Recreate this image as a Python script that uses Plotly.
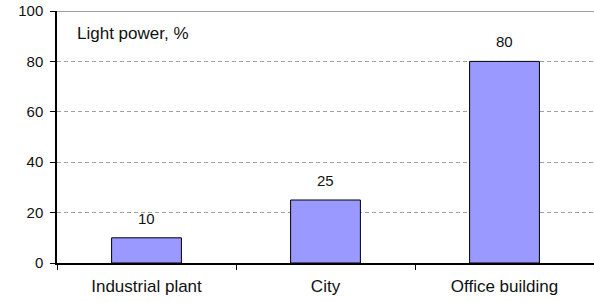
import plotly.graph_objects as go

categories = ["Industrial plant", "City", "Office building"]
values = [10, 25, 80]
y_ticks = [0, 20, 40, 60, 80, 100]

font_family = "Liberation Sans, Arial, sans-serif"
text_color = "#111111"

fig = go.Figure()
fig.add_trace(go.Bar(
    x=categories, y=values,
    width=0.39,
    marker=dict(color="#9999FF", line=dict(color="#000000", width=1)),
    hoverinfo="skip",
))

for c, v in zip(categories, values):
    fig.add_annotation(x=c, y=v, text=str(v), showarrow=False,
                       xanchor="center", yanchor="bottom", yshift=9,
                       font=dict(family=font_family, size=15, color=text_color))

fig.update_layout(
    width=594, height=302,
    margin=dict(l=57, r=0, t=11, b=39),
    paper_bgcolor="white", plot_bgcolor="white",
    showlegend=False,
    font=dict(family=font_family, size=15, color=text_color),
    xaxis=dict(
        type="category", range=[-0.5, 2.5],
        showline=True, linecolor="#000000", linewidth=1.5,
        ticks="outside", tickson="boundaries", ticklen=5, tickcolor="#000000",
        showgrid=False, ticklabelstandoff=7,
        tickfont=dict(family=font_family, size=17, color=text_color),
    ),
    yaxis=dict(
        range=[0, 100], tickvals=y_ticks,
        showline=True, linecolor="#000000", linewidth=1.5,
        ticks="outside", ticklen=5, tickcolor="#000000",
        showgrid=True, gridcolor="#A0A0A0", gridwidth=1, griddash="4px,3px",
        zeroline=False, ticklabelstandoff=4,
        tickfont=dict(family=font_family, size=15, color=text_color),
    ),
    shapes=[dict(type="line", xref="paper", yref="y", x0=0, x1=1, y0=100, y1=100,
                 line=dict(color="#808080", width=1.5))],
)
fig.add_annotation(text="Light power, %", xref="paper", yref="paper",
                   x=0.033, y=0.909, xanchor="left", yanchor="middle",
                   showarrow=False,
                   font=dict(family=font_family, size=17, color=text_color))

fig.write_html("out.html", config={"displayModeBar": False},
               post_script="document.body.style.margin='0';")
